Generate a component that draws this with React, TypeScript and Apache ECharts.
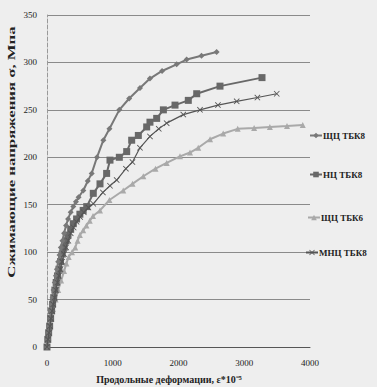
import React, { useEffect, useRef } from "react";
import * as echarts from "echarts";

// ---- Data (strain ε*10^-5, stress σ MPa) ----
const seriesNames = ["ЩЦ ТБК8", "НЦ ТБК8", "ЩЦ ТБК6", "МНЦ ТБК8"];

const shchTbk8Strain = [0, 10, 20, 32, 45, 58, 70, 85, 100, 118, 135, 150, 170, 190, 210, 235, 260, 290, 320, 360, 400, 440, 480, 552, 620, 680, 760, 857, 950, 1100, 1250, 1414, 1566, 1750, 1972, 2124, 2350, 2580];
const shchTbk8Stress = [0, 8, 15, 22, 30, 38, 45, 52, 60, 68, 75, 82, 90, 97, 105, 112, 120, 128, 135, 142, 148, 153, 158, 165, 175, 183, 200, 218, 230, 250, 262, 273, 283, 291, 298, 303, 307, 311];

const ncTbk8Strain = [0, 12, 25, 40, 55, 70, 85, 102, 120, 140, 160, 182, 205, 232, 260, 290, 320, 360, 400, 450, 500, 550, 604, 704, 806, 907, 958, 1100, 1212, 1288, 1389, 1516, 1566, 1668, 1770, 1947, 2149, 2277, 2631, 3270];
const ncTbk8Stress = [0, 8, 15, 22, 30, 38, 45, 52, 60, 68, 75, 82, 90, 98, 105, 112, 118, 124, 130, 135, 140, 144, 148, 162, 172, 183, 197, 200, 206, 218, 223, 232, 237, 241, 250, 255, 260, 267, 275, 284];

const shchTbk6Strain = [0, 20, 40, 65, 90, 130, 170, 215, 260, 295, 330, 380, 430, 465, 500, 550, 600, 650, 700, 806, 950, 1160, 1300, 1465, 1650, 1820, 2023, 2175, 2300, 2480, 2680, 2900, 3150, 3390, 3650, 3890];
const shchTbk6Stress = [0, 10, 20, 30, 40, 50, 60, 70, 80, 88, 95, 100, 105, 112, 118, 123, 128, 133, 138, 144, 155, 165, 172, 180, 188, 194, 201, 205, 210, 219, 225, 230, 231, 232, 233, 234];

const mncTbk8Strain = [0, 15, 30, 45, 60, 78, 95, 115, 135, 158, 180, 205, 230, 260, 290, 325, 360, 405, 450, 505, 560, 630, 704, 850, 958, 1060, 1200, 1300, 1414, 1566, 1700, 1820, 2073, 2327, 2600, 2885, 3200, 3494];
const mncTbk8Stress = [0, 8, 15, 22, 30, 38, 45, 52, 60, 68, 75, 82, 90, 98, 105, 112, 120, 126, 132, 137, 142, 147, 151, 163, 170, 176, 188, 195, 210, 222, 230, 236, 245, 250, 255, 259, 263, 267];

const xMin = 0, xMax = 4000, xStep = 1000;
const yMin = 0, yMax = 350, yStep = 50;

const xTitle = "Продольные деформации, ε*10⁻⁵";
const yTitle = "Сжимающие напряжения σ, Мпа";

const pairs = (xs: number[], ys: number[]) => xs.map((x, i) => [x, ys[i]]);

const FONT = "'Liberation Serif', 'Times New Roman', serif";
const CROSS = "path://M0,1L1,0L5,4L9,0L10,1L6,5L10,9L9,10L5,6L1,10L0,9L4,5Z";

export default function App() {
  const ref = useRef<HTMLDivElement>(null);
  useEffect(() => {
    if (!ref.current) return;
    const chart = echarts.init(ref.current, undefined, { renderer: "svg" });
    const legendTops = [131, 170, 213, 248];
    const legendLefts = [309, 309, 307, 305];
    chart.setOption({
      animation: false,
      backgroundColor: "#eeeeee",
      grid: { left: 47, right: 67, top: 15, bottom: 40, containLabel: false },
      xAxis: {
        type: "value",
        min: xMin,
        max: xMax,
        interval: xStep,
        axisLine: { show: true, lineStyle: { color: "#555", width: 1 } },
        axisTick: { show: false },
        splitLine: { show: false },
        axisLabel: { color: "#222", fontFamily: FONT, fontSize: 9, margin: 11, formatter: (v: number) => String(v) },
      },
      yAxis: {
        type: "value",
        min: yMin,
        max: yMax,
        interval: yStep,
        axisLine: { show: true, lineStyle: { color: "#999", width: 1, type: "dashed" } },
        axisTick: { show: false },
        splitLine: { show: true, lineStyle: { color: "#8a8a8a", width: 1 } },
        axisLabel: { color: "#222", fontFamily: FONT, fontSize: 9, margin: 10, formatter: (v: number) => String(v) },
      },
      legend: seriesNames.map((n, i) => ({
        data: [n],
        orient: "vertical",
        left: legendLefts[i],
        top: legendTops[i],
        itemWidth: 12,
        itemHeight: 7,
        itemGap: 2,
        padding: 0,
        textStyle: { fontFamily: FONT, fontSize: 9, fontWeight: "bold", color: "#222", padding: [0, 0, 0, -4] },
      })),
      graphic: [
        {
          type: "text",
          x: 12,
          y: 152,
          rotation: Math.PI / 2,
          scaleX: 1.68,
          scaleY: 1,
          style: {
            text: yTitle,
            font: `bold 10px ${FONT}`,
            fill: "#222",
            textAlign: "center",
            textVerticalAlign: "middle",
          },
        },
        {
          type: "text",
          x: 169,
          y: 379,
          style: {
            text: xTitle,
            font: `bold 10px ${FONT}`,
            fill: "#222",
            textAlign: "center",
            textVerticalAlign: "middle",
          },
        },
      ],
      series: [
        {
          name: seriesNames[0],
          type: "line",
          data: pairs(shchTbk8Strain, shchTbk8Stress),
          symbol: "diamond",
          symbolSize: 6,
          lineStyle: { color: "#787878", width: 2 },
          itemStyle: { color: "#787878" },
          z: 4,
        },
        {
          name: seriesNames[1],
          type: "line",
          data: pairs(ncTbk8Strain, ncTbk8Stress),
          symbol: "rect",
          symbolSize: 7,
          lineStyle: { color: "#686868", width: 2 },
          itemStyle: { color: "#686868" },
          z: 3,
        },
        {
          name: seriesNames[2],
          type: "line",
          data: pairs(shchTbk6Strain, shchTbk6Stress),
          symbol: "triangle",
          symbolSize: 6,
          lineStyle: { color: "#a9a9a9", width: 2 },
          itemStyle: { color: "#a9a9a9" },
          z: 2,
        },
        {
          name: seriesNames[3],
          type: "line",
          data: pairs(mncTbk8Strain, mncTbk8Stress),
          symbol: CROSS,
          symbolSize: 6,
          lineStyle: { color: "#555555", width: 1.2 },
          itemStyle: { color: "#555555" },
          z: 5,
        },
      ],
    });
    return () => chart.dispose();
  }, []);
  return <div ref={ref} style={{ width: 377, height: 387, position: "absolute", left: 0, top: 0 }} />;
}
